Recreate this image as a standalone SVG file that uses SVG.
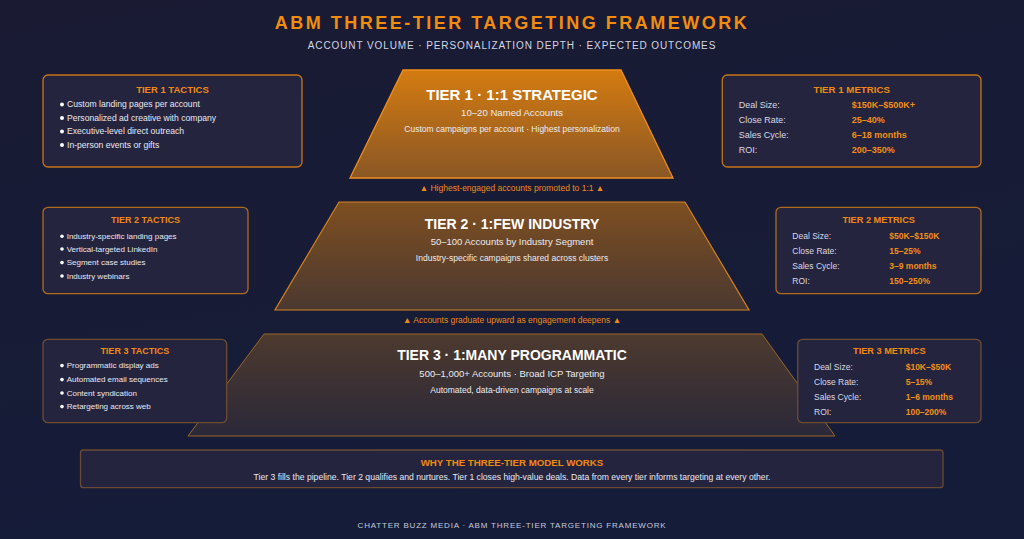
<svg xmlns="http://www.w3.org/2000/svg" width="1024" height="539" viewBox="0 0 1024 539">
<defs>
<linearGradient id="bg" x1="0" y1="0" x2="0.3" y2="1">
<stop offset="0" stop-color="#1a1b33"/>
<stop offset="1" stop-color="#151c39"/>
</linearGradient>
<linearGradient id="g1" x1="0" y1="0" x2="0" y2="1">
<stop offset="0" stop-color="#d47b10"/>
<stop offset="1" stop-color="#8a5725"/>
</linearGradient>
<linearGradient id="g2" x1="0" y1="0" x2="0" y2="1">
<stop offset="0" stop-color="#7e4f21"/>
<stop offset="1" stop-color="#4a3830"/>
</linearGradient>
<linearGradient id="g3" x1="0" y1="0" x2="0" y2="1">
<stop offset="0" stop-color="#4d3a2e"/>
<stop offset="1" stop-color="#2a2839"/>
</linearGradient>
</defs>
<style>
text{font-family:"Liberation Sans",Arial,sans-serif}
.title{font-size:18px;font-weight:bold;fill:#f28c0f;letter-spacing:2.5px}
.sub{font-size:10px;fill:#d4d6e2;letter-spacing:0.9px}
.tt{font-weight:bold;fill:#ffffff;text-anchor:middle}
.ts{fill:#ecebef;text-anchor:middle}
.arrow{font-size:8.5px;fill:#ee8a18;text-anchor:middle}
.box{fill:#25243f;stroke-width:1.3}
.bh{font-weight:bold;fill:#f08a12;text-anchor:middle}
.it{fill:#e8e8f0}
.lb{fill:#d8d9e4}
.val{font-weight:bold;fill:#f29015}
.dot{fill:#ffffff}
.foot{font-size:8px;fill:#c8cad8;letter-spacing:0.8px;text-anchor:middle}
</style>
<rect width="1024" height="539" fill="url(#bg)"/>

<g id="header">
<text class="title" x="512" y="29" text-anchor="middle">ABM THREE-TIER TARGETING FRAMEWORK</text>
<text class="sub" x="512" y="48.5" text-anchor="middle">ACCOUNT VOLUME · PERSONALIZATION DEPTH · EXPECTED OUTCOMES</text>
</g>

<g id="tier3">
<polygon points="264,334 762,334 835,436 188,436" fill="url(#g3)" stroke="#9c6626" stroke-width="1"/>
<text class="tt" x="512" y="360" font-size="14">TIER 3 · 1:MANY PROGRAMMATIC</text>
<text class="ts" x="512" y="376.5" font-size="9.5">500–1,000+ Accounts · Broad ICP Targeting</text>
<text class="ts" x="512" y="392.5" font-size="8.5">Automated, data-driven campaigns at scale</text>
</g>

<g id="tier2">
<polygon points="339,202 685,202 749,310 275,310" fill="url(#g2)" stroke="#d4821e" stroke-width="1.2"/>
<text class="tt" x="512" y="229.3" font-size="14">TIER 2 · 1:FEW INDUSTRY</text>
<text class="ts" x="512" y="245" font-size="9.5">50–100 Accounts by Industry Segment</text>
<text class="ts" x="512" y="261" font-size="8.5">Industry-specific campaigns shared across clusters</text>
</g>

<g id="tier1">
<polygon points="403,70 621,70 673,178 350,178" fill="url(#g1)" stroke="#f0901c" stroke-width="1.3"/>
<text class="tt" x="512" y="100" font-size="15">TIER 1 · 1:1 STRATEGIC</text>
<text class="ts" x="512" y="116" font-size="9.6">10–20 Named Accounts</text>
<text class="ts" x="512" y="132" font-size="8.5">Custom campaigns per account · Highest personalization</text>
</g>

<g id="connectors">
<text class="arrow" x="512" y="190.5">▲ Highest-engaged accounts promoted to 1:1 ▲</text>
<text class="arrow" x="512" y="323">▲ Accounts graduate upward as engagement deepens ▲</text>
</g>

<g id="tier1-tactics">
<rect class="box" x="43" y="75" width="259" height="92" rx="5" stroke="#c67418"/>
<text class="bh" x="172.5" y="92.7" font-size="9.5">TIER 1 TACTICS</text>
<circle class="dot" cx="62" cy="104.5" r="2"/><text class="it" x="67" y="107.3" font-size="8.6">Custom landing pages per account</text>
<circle class="dot" cx="62" cy="118" r="2"/><text class="it" x="67" y="121" font-size="8.6">Personalized ad creative with company</text>
<circle class="dot" cx="62" cy="131.5" r="2"/><text class="it" x="67" y="134.3" font-size="8.6">Executive-level direct outreach</text>
<circle class="dot" cx="62" cy="145" r="2"/><text class="it" x="67" y="147.7" font-size="8.6">In-person events or gifts</text>
</g>

<g id="tier1-metrics">
<rect class="box" x="722.3" y="75" width="258.7" height="92" rx="5" stroke="#c67418"/>
<text class="bh" x="851.7" y="92.7" font-size="9.7">TIER 1 METRICS</text>
<text class="lb" x="738.7" y="107.7" font-size="9">Deal Size:</text><text class="val" x="851.7" y="107.7" font-size="9">$150K–$500K+</text>
<text class="lb" x="738.7" y="123.3" font-size="9">Close Rate:</text><text class="val" x="851.7" y="123.3" font-size="9">25–40%</text>
<text class="lb" x="738.7" y="138.3" font-size="9">Sales Cycle:</text><text class="val" x="851.7" y="138.3" font-size="9">6–18 months</text>
<text class="lb" x="738.7" y="153" font-size="9">ROI:</text><text class="val" x="851.7" y="153" font-size="9">200–350%</text>
</g>

<g id="tier2-tactics">
<rect class="box" x="43" y="207.3" width="205" height="86.4" rx="5" stroke="#b06a1e"/>
<text class="bh" x="145.5" y="223.3" font-size="9">TIER 2 TACTICS</text>
<circle class="dot" cx="62" cy="236.3" r="1.8"/><text class="it" x="66.7" y="239" font-size="8">Industry-specific landing pages</text>
<circle class="dot" cx="62" cy="249" r="1.8"/><text class="it" x="66.7" y="251.7" font-size="8">Vertical-targeted LinkedIn</text>
<circle class="dot" cx="62" cy="262.6" r="1.8"/><text class="it" x="66.7" y="265.3" font-size="8">Segment case studies</text>
<circle class="dot" cx="62" cy="276" r="1.8"/><text class="it" x="66.7" y="278.7" font-size="8">Industry webinars</text>
</g>

<g id="tier2-metrics">
<rect class="box" x="776" y="207.3" width="205" height="86.4" rx="5" stroke="#b06a1e"/>
<text class="bh" x="878.7" y="223" font-size="9.2">TIER 2 METRICS</text>
<text class="lb" x="792.3" y="239.3" font-size="8.5">Deal Size:</text><text class="val" x="889.3" y="239.3" font-size="8.5">$50K–$150K</text>
<text class="lb" x="792.3" y="254.3" font-size="8.5">Close Rate:</text><text class="val" x="889.3" y="254.3" font-size="8.5">15–25%</text>
<text class="lb" x="792.3" y="269" font-size="8.5">Sales Cycle:</text><text class="val" x="889.3" y="269" font-size="8.5">3–9 months</text>
<text class="lb" x="792.3" y="284.3" font-size="8.5">ROI:</text><text class="val" x="889.3" y="284.3" font-size="8.5">150–250%</text>
</g>

<g id="tier3-tactics">
<rect class="box" x="43" y="339.3" width="183.7" height="83.4" rx="5" stroke="#6e4c30"/>
<text class="bh" x="134.8" y="354.3" font-size="9">TIER 3 TACTICS</text>
<circle class="dot" cx="62" cy="365.6" r="1.8"/><text class="it" x="66.7" y="368.3" font-size="8">Programmatic display ads</text>
<circle class="dot" cx="62" cy="379.6" r="1.8"/><text class="it" x="66.7" y="382.3" font-size="8">Automated email sequences</text>
<circle class="dot" cx="62" cy="393" r="1.8"/><text class="it" x="66.7" y="395.7" font-size="8">Content syndication</text>
<circle class="dot" cx="62" cy="406.6" r="1.8"/><text class="it" x="66.7" y="409.3" font-size="8">Retargeting across web</text>
</g>

<g id="tier3-metrics">
<rect class="box" x="797.7" y="339.3" width="183.3" height="83.4" rx="5" stroke="#6e4c30"/>
<text class="bh" x="889.3" y="354.3" font-size="9.2">TIER 3 METRICS</text>
<text class="lb" x="814" y="370.3" font-size="8.5">Deal Size:</text><text class="val" x="905.7" y="370.3" font-size="8.5">$10K–$50K</text>
<text class="lb" x="814" y="385.3" font-size="8.5">Close Rate:</text><text class="val" x="905.7" y="385.3" font-size="8.5">5–15%</text>
<text class="lb" x="814" y="400" font-size="8.5">Sales Cycle:</text><text class="val" x="905.7" y="400" font-size="8.5">1–6 months</text>
<text class="lb" x="814" y="414.7" font-size="8.5">ROI:</text><text class="val" x="905.7" y="414.7" font-size="8.5">100–200%</text>
</g>

<g id="why-box">
<rect class="box" x="80.5" y="450" width="862.5" height="37.7" rx="3" stroke="#6a4a32"/>
<text class="bh" x="512" y="466" font-size="9.7">WHY THE THREE-TIER MODEL WORKS</text>
<text class="it" x="512" y="480.3" font-size="8.63" text-anchor="middle">Tier 3 fills the pipeline. Tier 2 qualifies and nurtures. Tier 1 closes high-value deals. Data from every tier informs targeting at every other.</text>
</g>

<g id="footer">
<text class="foot" x="512" y="527.5">CHATTER BUZZ MEDIA · ABM THREE-TIER TARGETING FRAMEWORK</text>
</g>
</svg>
